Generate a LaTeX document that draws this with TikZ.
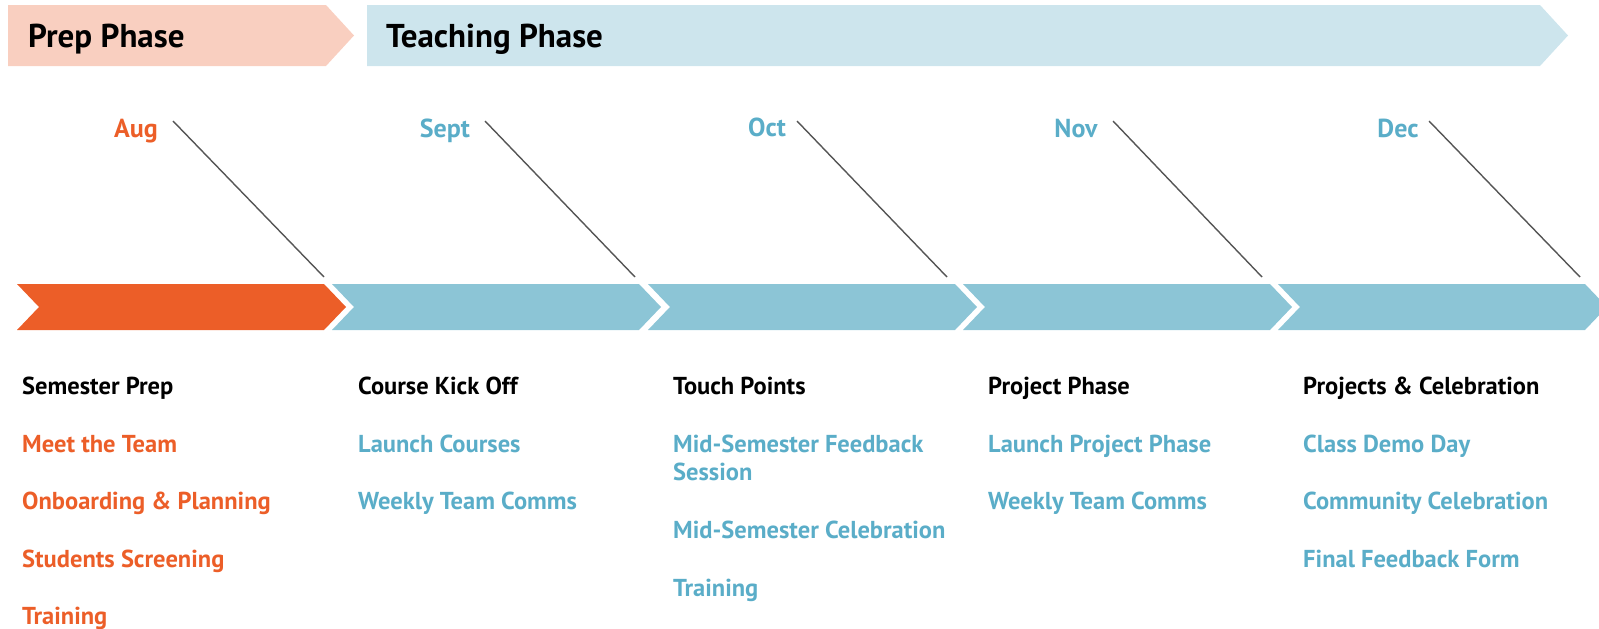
\documentclass[tikz,border=0pt]{standalone}
\usepackage{fontspec}
\setmainfont{PT Sans}
\definecolor{orangeC}{HTML}{EC5E28}
\definecolor{blueC}{HTML}{8CC5D6}
\definecolor{pinkBan}{HTML}{F9CFC0}
\definecolor{blueBan}{HTML}{CDE5ED}
\definecolor{blueTxt}{HTML}{5AADC8}
\definecolor{lineC}{HTML}{555555}
\begin{document}
\begin{tikzpicture}[x=1pt,y=-1pt,
  title/.style={anchor=west,font=\fontsize{33}{36}\selectfont\bfseries,text=black,inner sep=0pt,text height=24pt,text depth=7.5pt},
  month/.style={font=\fontsize{26}{28}\selectfont\bfseries,inner sep=0pt,text height=19pt,text depth=6pt},
  txt/.style={anchor=west,font=\fontsize{24.5}{28.8}\selectfont\bfseries,inner sep=0pt},
  fix/.style={text height=18pt,text depth=5.5pt},
  head/.style={txt,fix,text=black},
  itemO/.style={txt,fix,text=orangeC},
  itemB/.style={txt,fix,text=blueTxt},
  itemBB/.style={txt,text=blueTxt,align=left},
  tick/.style={draw=lineC,line width=1.4pt}]
\useasboundingbox (0,0) rectangle (1599,629);
\begin{scope}
\clip (0,0) rectangle (1599,629);
% banners
\fill[pinkBan] (8,5) -- (326,5) -- (354,35.5) -- (326,66) -- (8,66) -- cycle;
\fill[blueBan] (367,5) -- (1540,5) -- (1568,35.5) -- (1540,66) -- (367,66) -- cycle;
\node[title] (prep) at (28,39) {Prep Phase};
\node[title] (teach) at (386,39) {Teaching Phase};
% chevrons
\foreach \a/\c in {17/orangeC,332/blueC,648/blueC,963/blueC,1278/blueC}{
  \fill[\c] (\a,284) -- (\a+307,284) -- (\a+329,307) -- (\a+307,330) -- (\a,330) -- (\a+22,307) -- cycle;
}
\end{scope}
% months
\node[month,text=orangeC] (m1) at (136,131) {Aug};
\node[month,text=blueTxt] (m2) at (445,131) {Sept};
\node[month,text=blueTxt] (m3) at (767,129.5) {Oct};
\node[month,text=blueTxt] (m4) at (1076,131) {Nov};
\node[month,text=blueTxt] (m5) at (1398,130.5) {Dec};
\coordinate (s1) at (173,121);
\coordinate (s2) at (485,121);
\coordinate (s3) at (797,121);
\coordinate (s4) at (1113,121);
\coordinate (s5) at (1429,121);
\coordinate (e1) at (324,277);
\coordinate (e2) at (635,277);
\coordinate (e3) at (947,277);
\coordinate (e4) at (1262,277);
\coordinate (e5) at (1580,277);
\foreach \i in {1,...,5}{\draw[tick] (s\i) -- (e\i);}
% column 1
\node[head] (h1) at (22,388.5) {Semester Prep};
\node[itemO] (a1) at (22,446.5) {Meet the Team};
\node[itemO] (a2) at (22,503.5) {Onboarding \& Planning};
\node[itemO] (a3) at (22,561.5) {Students Screening};
\node[itemO] (a4) at (22,618.5) {Training};
% column 2
\node[head] (h2) at (358,388.5) {Course Kick Off};
\node[itemB] (b1) at (358,446.5) {Launch Courses};
\node[itemB] (b2) at (358,503.5) {Weekly Team Comms};
% column 3
\node[head] (h3) at (673,388.5) {Touch Points};
\node[itemBB] (c1) at (673,458) {Mid-Semester Feedback\\Session};
\node[itemB] (c2) at (673,532) {Mid-Semester Celebration};
\node[itemB] (c3) at (673,590) {Training};
% column 4
\node[head] (h4) at (988,388.5) {Project Phase};
\node[itemB] (d1) at (988,446.5) {Launch Project Phase};
\node[itemB] (d2) at (988,503.5) {Weekly Team Comms};
% column 5
\node[head] (h5) at (1303,388.5) {Projects \& Celebration};
\node[itemB] (f1) at (1303,446.5) {Class Demo Day};
\node[itemB] (f2) at (1303,503.5) {Community Celebration};
\node[itemB] (f3) at (1303,561.5) {Final Feedback Form};
\end{tikzpicture}
\end{document}
